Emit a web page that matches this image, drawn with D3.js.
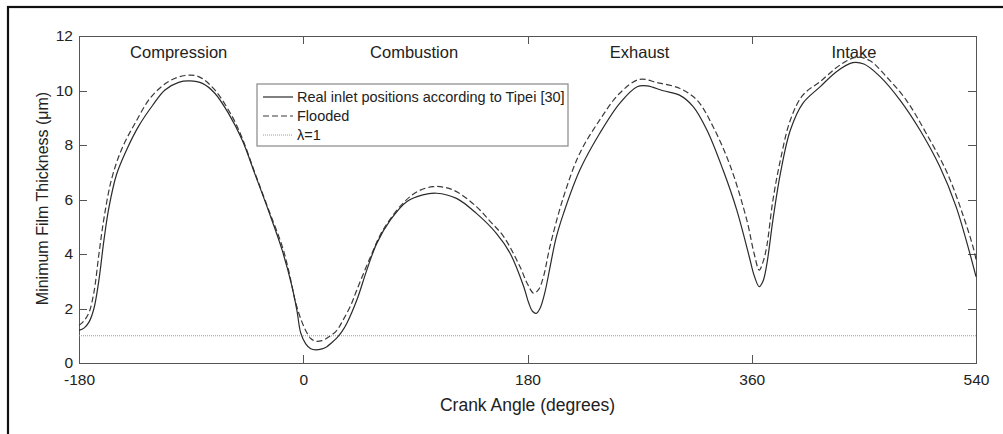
<!DOCTYPE html>
<head>
    <title>Minimum Film Thickness</title>
    <meta charset="utf-8" />
</head>

<style>
    body {
        margin: 0;
        background: #ffffff;
    }

    text {
        font-family: "Liberation Sans", Arial, sans-serif;
        fill: #222222;
    }

    .axis path,
    .axis line {
        fill: none;
        stroke: #555555;
        stroke-width: 1px;
        shape-rendering: crispEdges;
    }

    .axis text {
        font-size: 15.5px;
        fill: #222222;
    }
</style>

<body>
    <svg id="chart" width="1003" height="434"></svg>

    <script src="https://d3js.org/d3.v7.min.js"></script>

    <script>
        // data (crank angle in degrees, film thickness in um)
        var realAngle = [-180, -176, -172, -168, -164, -160, -156, -150, -142, -132, -121, -111, -100, -91, -81, -71, -60, -49, -39, -28, -17, -9, -5, -2, 2, 6, 10, 15, 19, 23, 27, 31, 35, 43, 51, 59, 70, 83, 96, 107, 123, 139, 155, 166, 177, 181, 184, 187, 190, 194, 198, 203, 209, 222, 238, 254, 268, 276, 289, 302, 313, 324, 337, 348, 358, 362, 366, 369, 372, 377, 383, 391, 401, 415, 428, 441, 450, 463, 479, 495, 511, 524, 535, 540];
        var realValue = [1.20, 1.28, 1.50, 2.0, 3.05, 4.5, 5.7, 6.9, 7.8, 8.7, 9.45, 10.02, 10.30, 10.35, 10.26, 9.9, 9.16, 8.18, 6.96, 5.6, 4.15, 2.8, 1.9, 1.1, 0.7, 0.52, 0.48, 0.52, 0.6, 0.75, 0.92, 1.15, 1.46, 2.31, 3.41, 4.39, 5.25, 5.92, 6.17, 6.23, 6.04, 5.49, 4.76, 4.03, 2.8, 2.2, 1.9, 1.82, 2.0, 2.6, 3.5, 4.6, 5.5, 7.08, 8.43, 9.53, 10.14, 10.17, 9.99, 9.83, 9.41, 8.55, 7.08, 5.61, 3.9, 3.2, 2.8, 3.0, 3.6, 5.25, 6.96, 8.55, 9.53, 10.14, 10.69, 11.02, 10.97, 10.51, 9.65, 8.55, 7.2, 5.74, 4.03, 3.17];

        var floodAngle = [-180, -176, -172, -168, -164, -160, -154, -146, -135, -122, -108, -95, -84, -71, -57, -49, -39, -28, -17, -12, -6, -1, 3, 6, 10, 15, 21, 27, 32, 38, 43, 54, 64, 80, 92, 104, 113, 123, 139, 150, 161, 174, 180, 185, 189, 193, 198, 209, 222, 238, 254, 270, 284, 302, 316, 329, 343, 356, 362, 366, 369, 372, 377, 383, 391, 401, 415, 431, 444, 455, 468, 484, 500, 517, 530, 538, 540];
        var floodValue = [1.38, 1.55, 1.85, 2.6, 4.0, 5.3, 6.72, 7.82, 8.8, 9.77, 10.33, 10.55, 10.51, 10.02, 9.04, 8.25, 7.0, 5.65, 4.3, 3.45, 2.2, 1.5, 1.1, 0.9, 0.8, 0.82, 0.97, 1.2, 1.58, 2.1, 2.68, 3.9, 4.88, 5.86, 6.3, 6.47, 6.45, 6.29, 5.74, 5.2, 4.63, 3.53, 2.9, 2.56, 2.7, 3.2, 4.27, 6.11, 7.7, 8.92, 9.9, 10.41, 10.29, 10.08, 9.65, 8.67, 7.2, 5.25, 4.0, 3.41, 3.7, 4.27, 5.98, 7.45, 8.92, 9.83, 10.33, 10.94, 11.22, 11.09, 10.51, 9.65, 8.43, 6.96, 5.37, 4.2, 3.8];

        var lambdaValue = 1;

        var xTicks = [-180, 0, 180, 360, 540];
        var yTicks = [0, 2, 4, 6, 8, 10, 12];

        var phaseNames = ["Compression", "Combustion", "Exhaust", "Intake"];
        var phaseAngle = [-100, 89, 270, 442];

        var legendNames = ["Real inlet positions according to Tipei [30]", "Flooded", "\u03bb=1"];

        // chart
        var margin = {
            top: 36,
            right: 27,
            bottom: 71,
            left: 79
        };

        var width = 1003 - margin.left - margin.right,
            height = 434 - margin.top - margin.bottom;

        var svg = d3.select("#chart");

        // outer frame of the figure
        svg.append("rect")
            .attr("x", 8)
            .attr("y", 7)
            .attr("width", 1020)
            .attr("height", 450)
            .attr("fill", "none")
            .attr("stroke", "#111111")
            .attr("stroke-width", 2.2);

        var g = svg.append("g")
            .attr("transform", "translate(" + margin.left + "," + margin.top + ")");

        var x = d3.scaleLinear().domain([-180, 540]).range([0, width]);
        var y = d3.scaleLinear().domain([0, 12]).range([height, 0]);

        // plain hyphen for negative numbers, like the original
        var plain = function(d) {
            return String(d);
        };

        // axes, ticks pointing inwards on all four sides
        g.append("g")
            .attr("class", "axis x")
            .attr("transform", "translate(0," + height + ")")
            .call(d3.axisBottom(x).tickValues(xTicks).tickSizeInner(-8).tickSizeOuter(0).tickPadding(10).tickFormat(plain));

        g.append("g")
            .attr("class", "axis x2")
            .call(d3.axisTop(x).tickValues(xTicks).tickSizeInner(-8).tickSizeOuter(0).tickFormat(""));

        g.append("g")
            .attr("class", "axis y")
            .call(d3.axisLeft(y).tickValues(yTicks).tickSizeInner(-8).tickSizeOuter(0).tickPadding(6).tickFormat(plain));

        g.append("g")
            .attr("class", "axis y2")
            .attr("transform", "translate(" + width + ",0)")
            .call(d3.axisRight(y).tickValues(yTicks).tickSizeInner(-8).tickSizeOuter(0).tickFormat(""));

        g.selectAll(".axis.x text").attr("dy", "0.8em");

        // axis titles
        svg.append("text")
            .attr("x", margin.left + width / 2)
            .attr("y", 411)
            .attr("text-anchor", "middle")
            .attr("font-size", "17.5px")
            .text("Crank Angle (degrees)");

        svg.append("text")
            .attr("transform", "translate(48," + (margin.top + height / 2 - 1) + ") rotate(-90)")
            .attr("text-anchor", "middle")
            .attr("font-size", "16px")
            .text("Minimum Film Thickness (\u03bcm)");

        // phase labels
        g.selectAll(".phase")
            .data(phaseNames)
            .enter().append("text")
            .attr("class", "phase")
            .attr("x", function(d, i) {
                return x(phaseAngle[i]);
            })
            .attr("y", 22)
            .attr("text-anchor", "middle")
            .attr("font-size", "16.5px")
            .text(function(d) {
                return d;
            });

        // lines
        var line = d3.line()
            .x(function(d) {
                return x(d[0]);
            })
            .y(function(d) {
                return y(d[1]);
            })
            .curve(d3.curveCatmullRom.alpha(0.5));

        var realData = realAngle.map(function(a, i) {
            return [a, realValue[i]];
        });
        var floodData = floodAngle.map(function(a, i) {
            return [a, floodValue[i]];
        });

        g.append("line")
            .attr("x1", x(-180))
            .attr("x2", x(540))
            .attr("y1", y(lambdaValue))
            .attr("y2", y(lambdaValue))
            .attr("stroke", "#9a9a9a")
            .attr("stroke-width", 1)
            .attr("stroke-dasharray", "1,1");

        g.append("path")
            .datum(floodData)
            .attr("fill", "none")
            .attr("stroke", "#3a3a3a")
            .attr("stroke-width", 1.2)
            .attr("stroke-dasharray", "6,3")
            .attr("d", line);

        g.append("path")
            .datum(realData)
            .attr("fill", "none")
            .attr("stroke", "#2a2a2a")
            .attr("stroke-width", 1.2)
            .attr("d", line);

        // legend
        var legend = svg.append("g")
            .attr("class", "legend")
            .attr("transform", "translate(257,84)");

        legend.append("rect")
            .attr("width", 311)
            .attr("height", 62)
            .attr("fill", "#ffffff")
            .attr("stroke", "#888888")
            .attr("stroke-width", 1.2);

        var legendDash = ["none", "6,3", "1,1"];
        var legendColor = ["#2a2a2a", "#3a3a3a", "#9a9a9a"];

        legend.selectAll("line")
            .data(legendNames)
            .enter().append("line")
            .attr("x1", 6)
            .attr("x2", 36)
            .attr("y1", function(d, i) {
                return 13 + i * 19;
            })
            .attr("y2", function(d, i) {
                return 13 + i * 19;
            })
            .attr("stroke", function(d, i) {
                return legendColor[i];
            })
            .attr("stroke-width", function(d, i) {
                return i == 2 ? 1 : 1.2;
            })
            .attr("stroke-dasharray", function(d, i) {
                return legendDash[i];
            });

        legend.selectAll("text")
            .data(legendNames)
            .enter().append("text")
            .attr("x", 40)
            .attr("y", function(d, i) {
                return 18 + i * 19;
            })
            .attr("font-size", "14.5px")
            .text(function(d) {
                return d;
            });
    </script>
</body>
